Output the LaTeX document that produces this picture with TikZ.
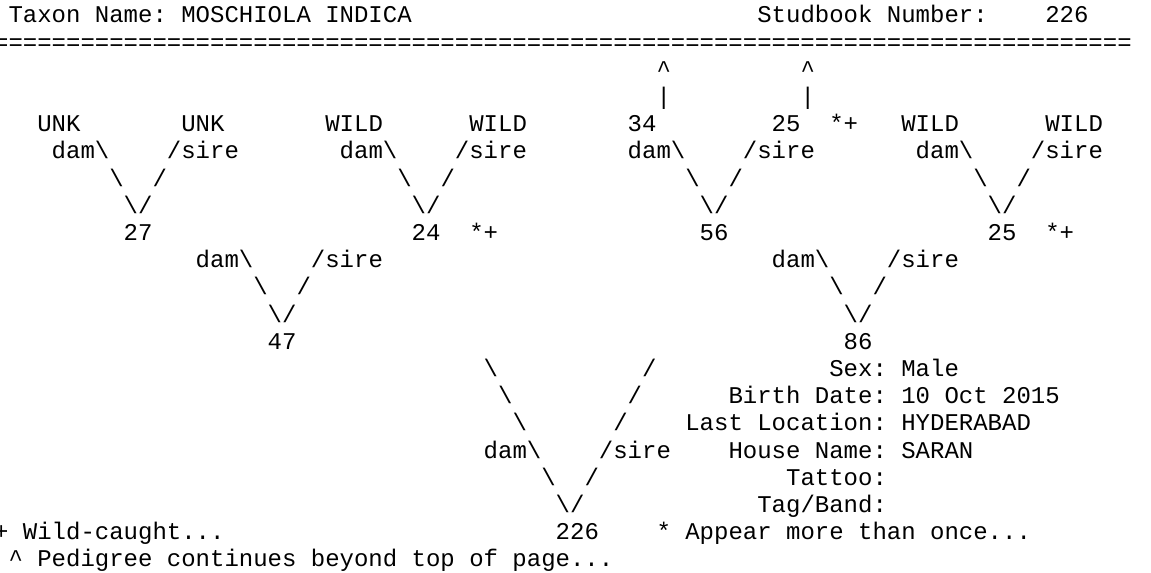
\documentclass[tikz,border=0pt]{standalone}
\usepackage{fontspec}
\setmonofont{Liberation Mono}
\newcommand{\bs}{\textbackslash}
\newcommand{\up}{\textasciicircum}
\begin{document}
\begin{tikzpicture}[x=10.8pt, y=-20.4pt,
  txt/.style={anchor=base west, inner sep=0pt, outer sep=0pt, font=\ttfamily\fontsize{18}{21}\selectfont}]
  \useasboundingbox (0.4097,-0.8456) rectangle (80.3403,20.2206);
  % header
  \node[txt] (taxon) at (1,0) {Taxon Name: MOSCHIOLA INDICA};
  \node[txt] (studlbl) at (53,0) {Studbook Number:};
  \node[txt] (studno) at (73,0) {226};
  \node[txt] (rule) at (0,1) {\foreach \i in {0,...,78}{=}};
  % continues above
  \foreach \c/\n in {46/a,56/b}{
    \node[txt] (up\n) at (\c,2) {\up};
    \node[txt] (bar\n) at (\c,3) {|};
  }
  % great-grandparents
  \node[txt] (gg1) at (3,4)  {UNK};
  \node[txt] (gg2) at (13,4) {UNK};
  \node[txt] (gg3) at (23,4) {WILD};
  \node[txt] (gg4) at (33,4) {WILD};
  \node[txt] (gg5) at (44,4) {34};
  \node[txt] (gg6) at (54,4) {25};
  \node[txt] (mk6) at (58,4) {*+};
  \node[txt] (gg7) at (63,4) {WILD};
  \node[txt] (gg8) at (73,4) {WILD};
  \foreach \c in {4,24,44,64}{
    \node[txt] (dam\c) at (\c,5) {dam\bs};
    \node[txt] (sire\c) at (\c+8,5) {/sire};
    \node[txt] (bl\c) at (\c+4,6) {\bs};
    \node[txt] (br\c) at (\c+7,6) {/};
    \node[txt] (v\c) at (\c+5,7) {\bs/};
  }
  % grandparents
  \node[txt] (g1) at (9,8)  {27};
  \node[txt] (g2) at (29,8) {24};
  \node[txt] (mk2) at (33,8) {*+};
  \node[txt] (g3) at (49,8) {56};
  \node[txt] (g4) at (69,8) {25};
  \node[txt] (mk4) at (73,8) {*+};
  \foreach \c in {14,54}{
    \node[txt] (dam\c) at (\c,9) {dam\bs};
    \node[txt] (sire\c) at (\c+8,9) {/sire};
    \node[txt] (bl\c) at (\c+4,10) {\bs};
    \node[txt] (br\c) at (\c+7,10) {/};
    \node[txt] (v\c) at (\c+5,11) {\bs/};
  }
  % parents
  \node[txt] (dam) at (19,12) {47};
  \node[txt] (sire) at (59,12) {86};
  \foreach \r in {13,14,15}{
    \node[txt] (bl\r) at (\r+21,\r) {\bs};
    \node[txt] (br\r) at (58-\r,\r) {/};
  }
  \node[txt] (damx) at (34,16) {dam\bs};
  \node[txt] (sirex) at (42,16) {/sire};
  \node[txt] (bl17) at (38,17) {\bs};
  \node[txt] (br17) at (41,17) {/};
  \node[txt] (v18) at (39,18) {\bs/};
  \node[txt] (self) at (39,19) {226};
  % details
  \node[txt] (sex) at (58,13) {Sex: Male};
  \node[txt] (birth) at (51,14) {Birth Date: 10 Oct 2015};
  \node[txt] (loc) at (48,15) {Last Location: HYDERABAD};
  \node[txt] (house) at (51,16) {House Name: SARAN};
  \node[txt] (tattoo) at (55,17) {Tattoo:};
  \node[txt] (tag) at (53,18) {Tag/Band:};
  % legend
  \node[txt] (wild) at (0,19) {+ Wild-caught...};
  \node[txt] (more) at (46,19) {* Appear more than once...};
  \node[txt] (page) at (1,20) {\up{} Pedigree continues beyond top of page...};
\end{tikzpicture}
\end{document}
